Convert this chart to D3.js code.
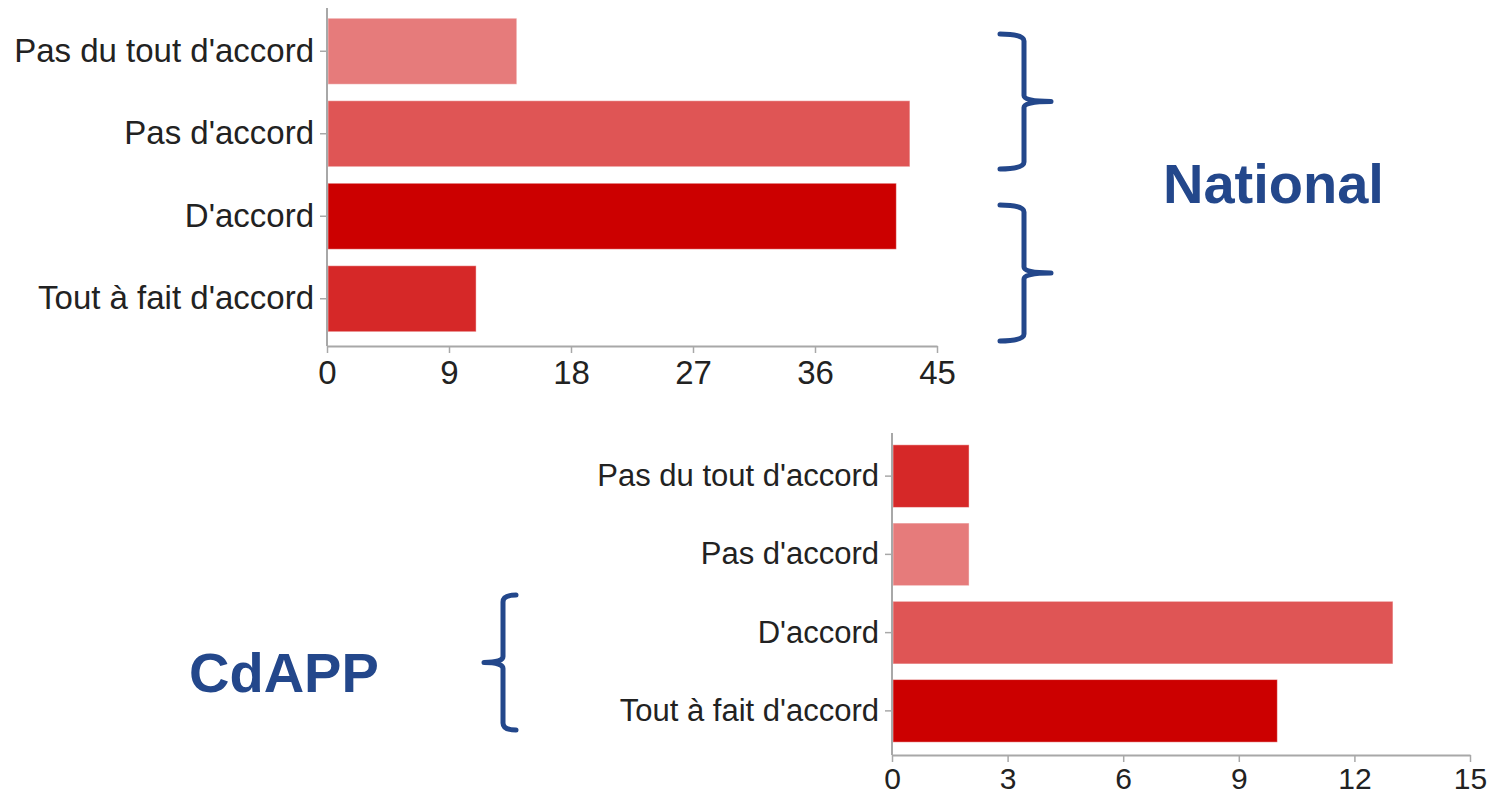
<!DOCTYPE html>
<html>
<head>
<meta charset="utf-8" />
<title>National / CdAPP</title>
<script src="https://cdn.jsdelivr.net/npm/d3@7"></script>
<style>
body { margin: 0; background: #fff; }
svg text { font-family: "Liberation Sans", Arial, sans-serif; }
</style>
</head>
<body>
<div id="chart"></div>
<script>
const categories = ["Pas du tout d'accord", "Pas d'accord", "D'accord", "Tout à fait d'accord"];
const nationalValues = [14, 43, 42, 11];
const nationalColors = ["#e67b7b", "#df5555", "#cc0000", "#d62828"];
const nationalTicks = [0, 9, 18, 27, 36, 45];
const cdappValues = [2, 2, 13, 10];
const cdappColors = ["#d62828", "#e67b7b", "#df5555", "#cc0000"];
const cdappTicks = [0, 3, 6, 9, 12, 15];

const blue = "#23478b";
const axisGrey = "#a8a8a8";

const svg = d3.select("#chart").append("svg")
	.attr("width", 1510)
	.attr("height", 797);

// one horizontal bar chart; pos holds the pixel frame
function barChart(values, colors, ticks, pos) {
	const x = d3.scaleLinear().domain([0, ticks[ticks.length - 1]]).range([pos.left, pos.right]);
	const y = d3.scaleBand().domain(categories).range([pos.bandTop, pos.bandBottom])
		.paddingInner(0.2).paddingOuter(0.1);

	const g = svg.append("g");

	g.selectAll("rect")
		.data(values)
		.enter()
		.append("rect")
			.attr("x", x(0) + 1)
			.attr("y", (d, i) => y(categories[i]))
			.attr("width", d => x(d) - x(0) - 1)
			.attr("height", y.bandwidth())
			.attr("fill", (d, i) => colors[i])
			.attr("stroke", "#fff")
			.attr("stroke-opacity", 0.45)
			.attr("stroke-width", 1);

	// y axis
	const yAxis = g.append("g")
		.attr("transform", "translate(" + x(0) + ",0)")
		.call(d3.axisLeft(y).tickSize(7).tickPadding(6));
	yAxis.select(".domain").remove();
	yAxis.selectAll(".tick line").attr("stroke", axisGrey).attr("stroke-width", 1.5);
	yAxis.selectAll(".tick text")
		.attr("fill", "#222")
		.style("font-size", pos.labelSize + "px");

	g.append("line")
		.attr("x1", x(0)).attr("x2", x(0))
		.attr("y1", pos.axisTop).attr("y2", pos.axisY)
		.attr("stroke", axisGrey).attr("stroke-width", 2);

	// x axis
	const xAxis = g.append("g")
		.attr("transform", "translate(0," + pos.axisY + ")")
		.call(d3.axisBottom(x).tickValues(ticks).tickSize(7).tickSizeOuter(0).tickPadding(pos.tickPad));
	xAxis.select(".domain").attr("stroke", axisGrey).attr("stroke-width", 2);
	xAxis.selectAll(".tick line").attr("stroke", axisGrey).attr("stroke-width", 1.5);
	xAxis.selectAll(".tick text")
		.attr("fill", "#222")
		.style("font-size", pos.tickSize + "px");
}

barChart(nationalValues, nationalColors, nationalTicks, {
	left: 327, right: 937, bandTop: 10, bandBottom: 340,
	axisTop: 8, axisY: 346, labelSize: 33, tickSize: 33, tickPad: 8
});

barChart(cdappValues, cdappColors, cdappTicks, {
	left: 892, right: 1470, bandTop: 437, bandBottom: 750,
	axisTop: 433, axisY: 755, labelSize: 31, tickSize: 30, tickPad: 6
});

// curly braces
function brace(xEnd, xMid, xTip, yTop, yBottom) {
	const yc = (yTop + yBottom) / 2;
	const p = d3.path();
	p.moveTo(xEnd, yTop);
	p.quadraticCurveTo(xMid, yTop, xMid, yTop + 7);
	p.lineTo(xMid, yc - 6);
	p.quadraticCurveTo(xMid, yc, xTip, yc);
	p.quadraticCurveTo(xMid, yc, xMid, yc + 6);
	p.lineTo(xMid, yBottom - 7);
	p.quadraticCurveTo(xMid, yBottom, xEnd, yBottom);
	svg.append("path")
		.attr("d", p.toString())
		.attr("fill", "none")
		.attr("stroke", blue)
		.attr("stroke-width", 5)
		.attr("stroke-linecap", "round")
		.attr("stroke-linejoin", "round");
}

brace(1000, 1024, 1051, 34, 169);
brace(1000, 1024, 1051, 205, 341);
brace(516, 503, 484, 595, 730);

svg.append("text")
	.attr("x", 1163).attr("y", 203)
	.attr("fill", blue)
	.style("font-size", "56px")
	.style("font-weight", "bold")
	.text("National");

svg.append("text")
	.attr("x", 189).attr("y", 692)
	.attr("fill", blue)
	.style("font-size", "56px")
	.style("font-weight", "bold")
	.text("CdAPP");
</script>
</body>
</html>
